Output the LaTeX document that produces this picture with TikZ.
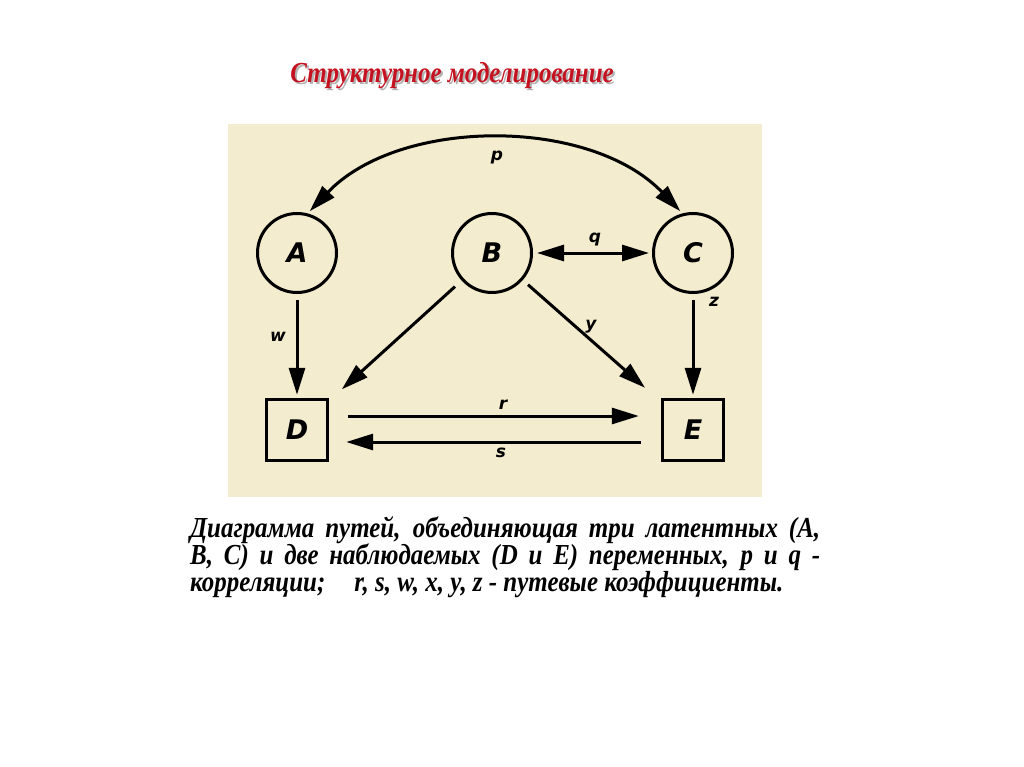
\documentclass[tikz,border=0pt]{standalone}
\usepackage{fontspec}
\setmainfont{Liberation Serif}
\newfontfamily\capfont[FakeStretch=0.86]{Liberation Serif}
\newfontfamily\lblfont{DejaVu Sans}
\usetikzlibrary{arrows.meta}
\definecolor{panelbg}{RGB}{243,236,206}
\definecolor{ttlred}{RGB}{196,18,32}

\begin{document}
\begin{tikzpicture}[x=1pt, y=-1pt,
  latent/.style={circle, draw, line width=3pt, minimum size=79pt, inner sep=0pt,
    font=\lblfont\bfseries\itshape\fontsize{27}{27}\selectfont},
  observed/.style={rectangle, draw, line width=3.4pt, minimum size=61pt, inner sep=0pt,
    font=\lblfont\bfseries\itshape\fontsize{27}{27}\selectfont},
  arr/.style={line width=3pt, -{Triangle[length=27pt,width=16pt]}},
  dblarr/.style={line width=3pt, {Triangle[length=27pt,width=16pt]}-{Triangle[length=27pt,width=16pt]}},
  coef/.style={font=\lblfont\bfseries\itshape\fontsize{17}{17}\selectfont, inner sep=1pt},
  captext/.style={font=\capfont\bfseries\itshape\fontsize{29}{29}\selectfont, inner sep=0pt, anchor=base west}]
\useasboundingbox (0,0) rectangle (1024,767);
% title with soft shadow
\node[text=black!30, font=\capfont\bfseries\itshape\fontsize{29}{29}\selectfont] (ttlshadow) at (454,78) {Структурное моделирование};
\node[text=ttlred, font=\capfont\bfseries\itshape\fontsize{29}{29}\selectfont] (ttl) at (452,76) {Структурное моделирование};
% beige panel
\fill[panelbg] (228,124) rectangle (762,497);
% latent (circles) and observed (boxes)
\node[latent] (A) at (297,253) {A};
\node[latent] (B) at (492,253) {B};
\node[latent] (C) at (693,253) {C};
\node[observed] (D) at (297,430) {D};
\node[observed] (E) at (693,430) {E};
% correlations
\draw[dblarr, shorten <=3pt, shorten >=3pt] (A.75) .. controls (400,117) and (590,117) .. (C.105);
\draw[dblarr, shorten <=4pt, shorten >=3pt] (B) -- (C);
% paths
\draw[arr, shorten <=6pt, shorten >=3pt] (A) -- (D);
\draw[arr, shorten <=6pt, shorten >=3pt] (C) -- (E);
\draw[arr, shorten <=9pt, shorten >=17pt] (B) -- (D);
\draw[arr, shorten <=7pt, shorten >=21pt] (B) -- (E);
\draw[arr, shorten <=19pt, shorten >=22pt] ([yshift=14pt]D.east) -- ([yshift=14pt]E.west);
\draw[arr, shorten <=20pt, shorten >=17pt] ([yshift=-12pt]E.west) -- ([yshift=-12pt]D.east);
% coefficient labels
\node[coef] (lp) at (497,158) {p};
\node[coef] (lq) at (595,240) {q};
\node[coef] (lw) at (278,337) {w};
\node[coef] (lz) at (714,302) {z};
\node[coef] (ly) at (591,327) {y};
\node[coef] (lr) at (503,405) {r};
\node[coef] (ls) at (501,453) {s};
% caption
\node[captext] (cap1) at (190,537) {\makebox[630pt][s]{Диаграмма путей, объединяющая три латентных (А,}};
\node[captext] (cap2) at (190,564) {\makebox[630pt][s]{В, С) и две наблюдаемых (D и E) переменных, p и q -}};
\node[captext] (cap3) at (190,591) {корреляции;\quad r, s, w, x, y, z - путевые коэффициенты.};
\end{tikzpicture}
\end{document}
